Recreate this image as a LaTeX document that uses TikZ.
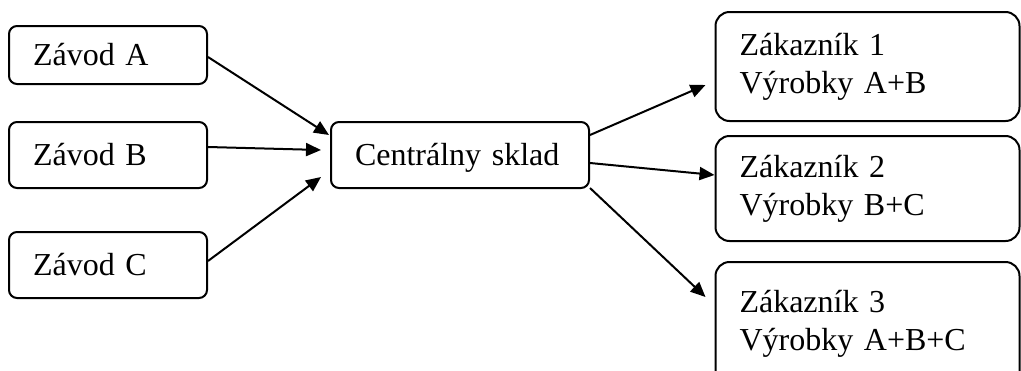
\documentclass[tikz,border=0pt]{standalone}
\usepackage{fontspec}
\setmainfont{Liberation Serif}
\usetikzlibrary{arrows.meta}
\begin{document}
\begin{tikzpicture}[x=0.5pt,y=-0.5pt,
  box/.style={draw,line width=1pt,rounded corners=4pt,align=left,
    font=\fontsize{16}{19}\selectfont,inner xsep=12pt,inner ysep=0pt},
  small/.style={box,text width=75pt,minimum height=33pt,text height=10pt,text depth=0pt},
  big/.style={box,rounded corners=7pt,text width=128pt,minimum height=54.5pt},
  arr/.style={line width=1pt,-{Triangle[length=7.5pt,width=6.5pt]}}]
\useasboundingbox (0,0) rectangle (1021,370);
\clip (0,0) rectangle (1021,370);
\node[small,minimum height=29pt] (za) at (108,55) {Závod A};
\node[small] (zb) at (108,155) {Závod B};
\node[small] (zc) at (108,265) {Závod C};
\node[small,text width=105pt] (cs) at (460,155) {Centrálny sklad};
\node[big] (k1) at (867.5,66.5) {Zákazník 1\\Výrobky A+B};
\node[big,minimum height=52.5pt] (k2) at (867.5,188.5) {Zákazník 2\\Výrobky B+C};
\node[big,minimum height=62pt] (k3) at (867.5,324) {Zákazník 3\\Výrobky A+B+C};
\draw[arr] ([yshift=-1pt]za.east) -- ([xshift=-0.5pt,yshift=10pt]cs.west);
\draw[arr] ([yshift=4pt]zb.east) -- ([xshift=-4.5pt,yshift=2.5pt]cs.west);
\draw[arr] ([yshift=2pt]zc.east) -- ([xshift=-4.5pt,yshift=-11pt]cs.west);
\draw[arr] ([yshift=10pt]cs.east) -- ([xshift=-4.5pt,yshift=-9.25pt]k1.west);
\draw[arr] ([yshift=-4pt]cs.east) -- ([yshift=6.75pt]k2.west);
\draw[arr] ([yshift=-16.5pt]cs.east) -- ([xshift=-4.5pt,yshift=13.5pt]k3.west);
\end{tikzpicture}
\end{document}
